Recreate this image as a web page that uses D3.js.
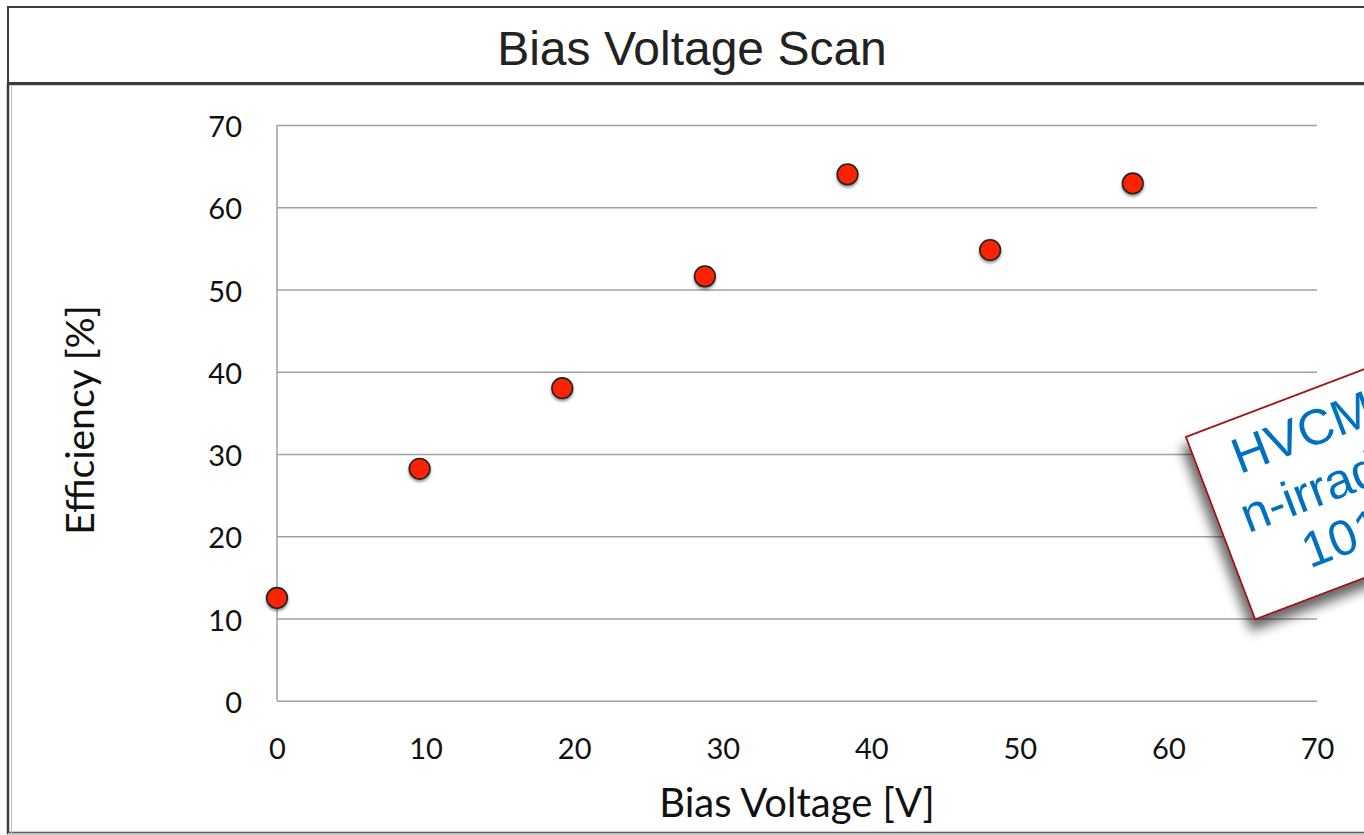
<!DOCTYPE html>
<html><head><meta charset="utf-8">
<script src="https://cdn.jsdelivr.net/npm/d3@7"></script>
<style>html,body{margin:0;padding:0;background:#fff;overflow:hidden}</style>
</head><body>
<svg id="c" width="1364" height="835"></svg>
<script>
const titleText = "Bias Voltage Scan";
const xLabel = "Bias Voltage [V]";
const yLabel = "Efficiency [%]";
const biasVoltage = [0, 9.6, 19.2, 28.8, 38.4, 48.0, 57.6];
const efficiency = [12.5, 28.2, 38.0, 51.6, 64.0, 54.8, 62.9];
const xTicks = [0, 10, 20, 30, 40, 50, 60, 70];
const yTicks = [0, 10, 20, 30, 40, 50, 60, 70];
const noteLines = ["HVCMOS", "n-irradiated", "1015 neq"];

const svg = d3.select("#c");
const defs = svg.append("defs");
const f1 = defs.append("filter").attr("id","boxShadow").attr("x","-30%").attr("y","-30%").attr("width","160%").attr("height","160%");
f1.append("feDropShadow").attr("dx",-7).attr("dy",9).attr("stdDeviation",6).attr("flood-color","#000").attr("flood-opacity",0.6);
const f2 = defs.append("filter").attr("id","dotShadow").attr("x","-50%").attr("y","-50%").attr("width","200%").attr("height","200%");
f2.append("feDropShadow").attr("dx",0).attr("dy",2).attr("stdDeviation",1.5).attr("flood-color","#000").attr("flood-opacity",0.45);

// frames
svg.append("rect").attr("x",8).attr("y",7).attr("width",1400).attr("height",76)
  .attr("fill","#fff").attr("stroke","#3c3c3c").attr("stroke-width",2);
svg.append("rect").attr("x",8).attr("y",84).attr("width",1400).attr("height",749)
  .attr("fill","#fff").attr("stroke","#3c3c3c").attr("stroke-width",2.5);
svg.append("line").attr("x1",11.5).attr("x2",11.5).attr("y1",86).attr("y2",833).attr("stroke","#bbb").attr("stroke-width",1);
svg.append("line").attr("x1",8).attr("x2",1364).attr("y1",833.5).attr("y2",833.5).attr("stroke","#bbb").attr("stroke-width",1.5);

svg.append("text").attr("x",692).attr("y",65).attr("text-anchor","middle")
  .attr("font-family","Liberation Sans, Arial, sans-serif").attr("font-size",48).attr("fill","#222").text(titleText);

const x = d3.scaleLinear().domain([0,70]).range([277,1317]);
const y = d3.scaleLinear().domain([0,70]).range([700.7,125]);

// gridlines
const gy = svg.append("g").attr("transform","translate(277,0)")
  .call(d3.axisLeft(y).tickValues(yTicks).tickSize(-(1317-277)).tickFormat(""));
gy.select(".domain").remove();
gy.selectAll(".tick line").attr("stroke","#a0a0a0").attr("stroke-width",1.5);

// axis line
svg.append("line").attr("x1",x(0)).attr("x2",x(0)).attr("y1",y(70)).attr("y2",y(0)).attr("stroke","#a0a0a0").attr("stroke-width",1.5);

// y tick labels
const yAx = svg.append("g").attr("transform","translate(277,0)")
  .call(d3.axisLeft(y).tickValues(yTicks).tickSize(0).tickPadding(35).tickFormat(d3.format("d")));
yAx.select(".domain").remove();
yAx.selectAll("text").attr("font-family","Lato, sans-serif").attr("font-size",29).attr("fill","#111").attr("dy","0.4em");

const xAx = svg.append("g").attr("transform","translate(0,700.7)")
  .call(d3.axisBottom(x).tickValues(xTicks).tickSize(0).tickPadding(38).tickFormat(d3.format("d")));
xAx.select(".domain").remove();
xAx.selectAll("text").attr("font-family","Lato, sans-serif").attr("font-size",29).attr("fill","#111");

svg.append("text").attr("x",797).attr("y",817).attr("text-anchor","middle")
  .attr("font-family","Lato, sans-serif").attr("font-size",40).attr("fill","#111").text(xLabel);
svg.append("text").attr("transform","translate(94,420) rotate(-90)").attr("text-anchor","middle")
  .attr("font-family","Lato, sans-serif").attr("font-size",39).attr("fill","#111").text(yLabel);

// points
svg.append("g").selectAll("circle").data(biasVoltage.map((v,i)=>({v, e: efficiency[i]})))
  .join("circle").attr("cx",d=>x(d.v)).attr("cy",d=>y(d.e)).attr("r",10.3)
  .attr("fill","#ff2200").attr("stroke","#222").attr("stroke-width",1.6).attr("filter","url(#dotShadow)");

// annotation box
const note = svg.append("g").attr("transform","translate(1186,437) rotate(-20.8)");
note.append("rect").attr("x",0).attr("y",0).attr("width",296).attr("height",195)
  .attr("fill","#fff").attr("stroke","#a01818").attr("stroke-width",2).attr("filter","url(#boxShadow)");
const starts = [37, 24, 69], bases = [54, 112, 167];
noteLines.forEach((t,i)=>{
  note.append("text").attr("x",starts[i]).attr("y",bases[i])
    .attr("font-family","Liberation Sans, Arial, sans-serif").attr("font-size",50).attr("fill","#0070c0").text(t);
});
</script>
</body></html>
